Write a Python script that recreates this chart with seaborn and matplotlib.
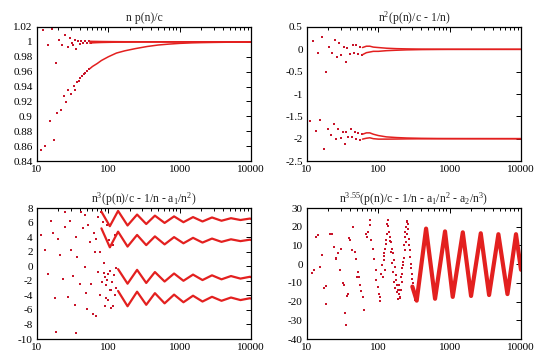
import matplotlib
matplotlib.use("Agg")
import matplotlib.pyplot as plt
from matplotlib.ticker import LogLocator, NullFormatter
import seaborn as sns

# ---- shared x axis ----
x_ticks = [10, 100, 1000, 10000]
x_tick_labels = ["10", "100", "1000", "10000"]

titles = [
    "n p(n)/c",
    "n$^2$(p(n)/c - 1/n)",
    "n$^3$(p(n)/c - 1/n - a$_1$/n$^2$)",
    "n$^{3.55}$(p(n)/c - 1/n - a$_1$/n$^2$ - a$_2$/n$^3$)",
]

# ---- panel 1: n p(n)/c ----
p1_yticks = [0.84, 0.86, 0.88, 0.9, 0.92, 0.94, 0.96, 0.98, 1.0, 1.02]
p1_ylabels = ["0.84", "0.86", "0.88", "0.9", "0.92", "0.94", "0.96", "0.98", "1", "1.02"]

p1_up_n = [12.1, 14.3, 16.3, 18.3, 20.3, 22.4, 24.4, 27.2, 28.7, 31.3, 32.0, 33.7,
           34.8, 37.5, 39.6, 41.7, 44.1, 46.5, 50.2, 53.5, 57.7]
p1_up_v = [1.0164, 0.9954, 1.0178, 0.972, 1.0021, 0.9954, 1.0097, 0.9931, 1.0052,
           0.9985, 0.9954, 1.0021, 0.9909, 1.0007, 0.9976, 1.0012, 0.9985, 1.0012,
           0.998, 1.0007, 0.9985]
p1_lo_n = [11.5, 13.0, 15.4, 17.3, 19.3, 21.5, 23.6, 25.8, 27.2, 29.6, 32.6, 33.7,
           36.4, 38.3, 40.5, 42.8, 45.0, 47.5, 50.2, 53.5]
p1_lo_v = [0.8551, 0.8596, 0.8941, 0.8686, 0.9044, 0.9089, 0.9273, 0.9188, 0.9349,
           0.9304, 0.9403, 0.9349, 0.9461, 0.9474, 0.9519, 0.9537, 0.9564, 0.9582,
           0.9609, 0.9631]

p1_curve_n = [55, 60, 70, 80, 100, 130, 170, 240, 350, 500, 700, 1000, 1500, 2000,
              3000, 5000, 10000]
p1_curve_lo = [0.964, 0.967, 0.971, 0.975, 0.980, 0.985, 0.988, 0.991, 0.9938,
               0.9958, 0.997, 0.998, 0.9987, 0.999, 0.9993, 0.9996, 0.9998]
p1_curve_hi_a = [1.0007, 1.0006, 1.0005, 1.0004, 1.0003, 1.0002, 1.0001, 1.0001,
                 1.0, 1.0, 1.0, 1.0, 1.0, 1.0, 1.0, 1.0, 1.0]
p1_curve_hi_b = [0.9985, 0.9988, 0.9991, 0.9993, 0.9995, 0.9997, 0.9998, 0.9999,
                 1.0, 1.0, 1.0, 1.0, 1.0, 1.0, 1.0, 1.0, 1.0]

# ---- panel 2: n^2(p(n)/c - 1/n) ----
p2_yticks = [-2.5, -2, -1.5, -1, -0.5, 0, 0.5]
p2_ylabels = ["-2.5", "-2", "-1.5", "-1", "-0.5", "0", "0.5"]

p2_up_n = [12.1, 14.3, 16.3, 18.3, 20.1, 22.4, 24.4, 26.6, 28.1, 30.3, 32.9, 35.6,
           36.7, 39.6, 44.1, 45.6, 49.1, 51.9, 54.7, 58.9]
p2_up_v = [0.19, -0.075, 0.28, -0.5, 0.05, -0.075, 0.22, -0.17, 0.15, -0.12, 0.05,
           -0.28, 0.03, -0.1, 0.1, -0.075, 0.09, -0.1, 0.05, -0.12]
p2_lo_n = [11.1, 13.3, 15.4, 17.5, 19.5, 21.5, 23.6, 25.8, 27.2, 29.6, 32.0, 33.7,
           35.6, 37.5, 40.9, 43.1, 46.5, 49.1, 51.9, 54.7, 58.9]
p2_lo_v = [-1.6, -1.82, -1.58, -2.23, -1.78, -1.91, -1.68, -2.0, -1.79, -1.99, -1.84,
           -2.13, -1.85, -1.96, -1.79, -1.96, -1.84, -2.01, -1.87, -2.04, -1.89]

p2_curve_n = [60, 68, 76, 85, 100, 130, 180, 250, 400, 700, 1500, 10000]
p2_up_a = [0.04, 0.07, 0.07, 0.05, 0.04, 0.025, 0.015, 0.01, 0.005, 0.003, 0.001, 0.0]
p2_up_b = [-0.12, -0.075, -0.06, -0.045, -0.045, -0.03, -0.02, -0.012, -0.006,
           -0.003, -0.001, 0.0]
p2_lo_a = [-1.90, -1.87, -1.87, -1.9, -1.93, -1.96, -1.975, -1.985, -1.992, -1.996,
           -1.998, -2.0]
p2_lo_b = [-2.01, -1.99, -1.98, -2.0, -2.01, -2.01, -2.008, -2.005, -2.003, -2.002,
           -2.001, -2.0]

# ---- panel 3: n^3(p(n)/c - 1/n - a1/n^2) ----
p3_yticks = [-10, -8, -6, -4, -2, 0, 2, 4, 6, 8]
p3_ylabels = ["-10", "-8", "-6", "-4", "-2", "0", "2", "4", "6", "8"]

p3_n = [11.3, 12.8, 14.3, 15.5, 16.8, 17.7, 18.7, 19.7, 20.8, 23.1, 24.4, 24.9,
        27.2, 28.7, 30.3, 32.0, 33.7, 35.6, 35.6, 36.7, 39.6, 41.7, 44.1, 46.5,
        46.5, 49.0, 50.7, 52.0, 54.7, 57.7, 61.0, 62.0, 66.0, 67.8, 68.0, 71.5,
        72.0, 75.5, 76.0, 79.7, 82.0, 84.1, 86.0, 88.7, 90.0, 93.6, 96.4, 99.0,
        101, 104, 107, 110, 116, 125,
        88, 92, 97, 100, 105, 108, 112, 115, 120, 124, 128, 130]
p3_v = [4.35, 2.2, -1.0, 6.2, 4.6, -4.3, -9.0, 3.8, 1.5, -1.7, 7.45, 5.4,
        -4.2, 6.2, 2.2, -1.3, -5.3, 4.0, -9.2, 1.3, -2.5, 7.45, 5.2, 7.1,
        -0.1, -3.7, -5.9, 5.6, 3.3, -2.5, -6.5, 4.6, 1.9, 3.8, -6.9, -0.8,
        6.8, -4.0, 2.0, 7.4, -2.2, 6.1, 0.4, -1.45, -5.5, -4.4, 5.6, -1.1,
        3.6, -3.3, 2.65, -5.8, 2.9, 4.25,
        -0.9, -2.6, -1.9, -4.7, -0.6, -3.3, -2.2, -5.4, -1.2, -4.0, -0.3, -3.0]

p3_osc_n = [80, 105, 137, 186, 253, 340, 450, 615, 835, 1130, 1540, 2090, 2840,
            3860, 5240, 7120, 9660, 10000]
p3_band1 = [7.5, 5.5, 7.6, 5.6, 7.1, 5.8, 6.95, 5.95, 6.85, 6.05, 6.75, 6.15, 6.7,
            6.25, 6.6, 6.35, 6.55, 6.5]
p3_band2 = [5.2, 2.6, 4.75, 2.7, 4.3, 2.9, 4.1, 3.0, 4.0, 3.15, 3.9, 3.25, 3.8,
            3.35, 3.7, 3.45, 3.65, 3.6]
p3_osc_n_low = [137, 186, 253, 340, 450, 615, 835, 1130, 1540, 2090, 2840, 3860,
                5240, 7120, 9660, 10000]
p3_band3 = [-0.4, -2.4, -0.5, -2.3, -0.8, -2.1, -1.0, -2.0, -1.15, -1.9, -1.25,
            -1.8, -1.35, -1.7, -1.45, -1.5]
p3_band4 = [-3.4, -5.5, -3.5, -5.3, -3.7, -5.1, -3.9, -4.95, -4.05, -4.85, -4.2,
            -4.75, -4.3, -4.65, -4.4, -4.45]

# ---- panel 4: n^3.55(...) ----
p4_yticks = [-40, -30, -20, -10, 0, 10, 20, 30]
p4_ylabels = ["-40", "-30", "-20", "-10", "0", "10", "20", "30"]

p4_n = [10.1, 11.9, 12.4, 13.2, 14.4, 15.4, 16.2, 17.3, 18.7, 18.7, 20.8, 22.4,
        23.9, 25.2, 25.8, 27.2, 28.7, 30.3, 32.0, 33.3, 34.0, 35.6, 36.4, 37.9,
        38.8, 40.5, 42.3, 44.1, 46.5, 48.0, 50.2, 51.9, 53.5, 54.7, 57.7, 60.9,
        63.6, 66.3, 69.2, 72.2, 75.5, 77.1, 79.7, 84.1, 87.7, 91.7, 93.6, 97.8,
        101, 104, 106.6, 110, 113.6, 116, 118.6, 122, 126, 129, 133, 136, 141,
        144, 149, 154, 160, 164, 169, 175, 178, 184, 189, 195, 199, 205, 212,
        218, 221, 228, 233, 240, 246, 252, 260, 268, 274, 283, 292, 305, 318,
        120, 124, 127, 131, 138, 146, 152, 157, 162, 167, 172, 180, 186, 192,
        198, 203, 208, 215, 224, 230, 236, 243, 249, 256, 264, 271, 278, 287,
        296, 310, 322, 330]
p4_v = [-6.4, -4.5, -2.9, 14.5, 15.8, -1.5, 4.8, -13, -11.8, -21.4, 16.3, 16.3,
        9.2, 3.3, 2.5, 5.7, -3.2, 8.1, -10, -11.2, -26, -32.7, -17.1, -15.7,
        14.2, 12.8, 7.4, 19.9, 6.5, 3, -7.1, -4.1, -6.8, -11.2, -14.2, -17.4,
        -24.6, 16, 14.5, 17.2, 23.4, 20.8, 12.8, 8.3, 3, -3.2, -8.6, -12.1,
        -16, -19.6, -17.4, -5, -0.6, -6.8, 2.1, 4.2, 8.3, 12.8, 21.6, 23.4, 17.2,
        14.5, 11.9, 8.3, 5.7, 2.1, -1.5, -5.9, -8.6, -11.2, -13.9, -15.7, -17.4,
        -13.9, -9.4, -5, -0.6, 3.5, 7.4, 14.5, 19.9, 22.5, 19, 13.7, 7.4, 0.3,
        -5, -10.3, -15.7,
        6.0, -3, 10.5, 16, 20.5, 12.5, 6.5, 0.5, -4, -9.5, -12.5, -15, -18.5,
        -14, -11, -18, -7, -2, 1, 10, 17, 12, 22.8, 16, 21.5, 10, 4, -2, -8,
        -13, -17.5, -19]

p4_osc_n = [300, 345, 467, 624, 861, 1104, 1528, 1995, 2729, 3570, 4822, 6460,
            8510, 10000]
p4_osc_v = [-12, -19.5, 19, -18.5, 17.5, -17.5, 17, -17, 16.5, -16.5, 16, -16,
            16, -3]

# ---- style ----
sns.set_style("white")
plt.rcParams["font.family"] = ["Liberation Serif", "DejaVu Serif"]
plt.rcParams["mathtext.fontset"] = "custom"
plt.rcParams["mathtext.rm"] = "Liberation Serif"
plt.rcParams["mathtext.default"] = "regular"

dot_color = "#c8142a"
line_color = "#e3201f"

fig = plt.figure(figsize=(5.4, 3.59), dpi=100)
w, h1, h2 = 0.3963, 0.3733, 0.3649
ax1 = fig.add_axes([0.0685, 0.5515, w, h1])
ax2 = fig.add_axes([0.5685, 0.5515, w, h1])
ax3 = fig.add_axes([0.0685, 0.0557, w, h2])
ax4 = fig.add_axes([0.5685, 0.0557, w, h2])


def dots(ax, n, v):
    sns.scatterplot(x=n, y=v, ax=ax, s=3, marker="s", color=dot_color, linewidth=0)


def band(ax, n, v, lw):
    sns.lineplot(x=n, y=v, ax=ax, sort=False, estimator=None, color=line_color,
                 lw=lw, solid_joinstyle="round")


def frame(ax, title, yticks, ylabels):
    ax.set_xscale("log")
    ax.set_xlim(10, 10000)
    ax.set_ylim(yticks[0], yticks[-1])
    ax.set_xticks(x_ticks)
    ax.set_xticklabels(x_tick_labels)
    ax.xaxis.set_minor_locator(LogLocator(base=10, subs=range(2, 10)))
    ax.xaxis.set_minor_formatter(NullFormatter())
    ax.set_yticks(yticks)
    ax.set_yticklabels(ylabels)
    ax.tick_params(which="both", direction="in", top=True, right=True,
                   labelsize=8, colors="black", width=0.7)
    ax.tick_params(which="major", length=3.5, pad=3)
    ax.tick_params(which="minor", length=1.8)
    for s in ax.spines.values():
        s.set_color("black")
        s.set_linewidth(0.9)
    ax.set_xlabel("")
    ax.set_ylabel("")
    ax.set_title(title, fontsize=8.5, pad=4)


dots(ax1, p1_up_n, p1_up_v)
dots(ax1, p1_lo_n, p1_lo_v)
band(ax1, p1_curve_n, p1_curve_lo, 1.1)
band(ax1, p1_curve_n, p1_curve_hi_a, 1.2)
band(ax1, p1_curve_n, p1_curve_hi_b, 1.2)
frame(ax1, titles[0], p1_yticks, p1_ylabels)

dots(ax2, p2_up_n, p2_up_v)
dots(ax2, p2_lo_n, p2_lo_v)
for strand in [p2_up_a, p2_up_b, p2_lo_a, p2_lo_b]:
    band(ax2, p2_curve_n, strand, 1.1)
frame(ax2, titles[1], p2_yticks, p2_ylabels)

dots(ax3, p3_n, p3_v)
band(ax3, p3_osc_n, p3_band1, 1.6)
band(ax3, p3_osc_n, p3_band2, 1.6)
band(ax3, p3_osc_n_low, p3_band3, 1.6)
band(ax3, p3_osc_n_low, p3_band4, 1.6)
frame(ax3, titles[2], p3_yticks, p3_ylabels)

dots(ax4, p4_n, p4_v)
band(ax4, p4_osc_n, p4_osc_v, 3.0)
frame(ax4, titles[3], p4_yticks, p4_ylabels)

plt.savefig("out.png", dpi=100)
